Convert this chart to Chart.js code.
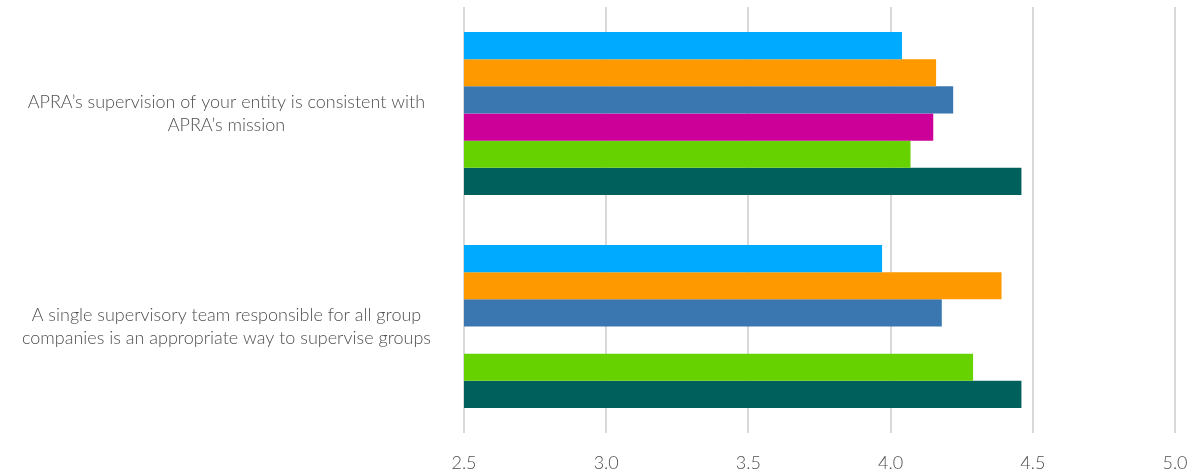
<!DOCTYPE html>
<html>
<head>
<meta charset="utf-8">
<script src="https://cdn.jsdelivr.net/npm/chart.js@4"></script>
<style>
html,body{margin:0;padding:0;background:#fff;}
#wrap{width:1197px;height:474px;}
</style>
</head>
<body>
<div id="wrap"><canvas id="c" width="1197" height="474"></canvas></div>
<script>
const categories = [
  ["APRA\u2019s supervision of your entity is consistent with", "APRA\u2019s mission"],
  ["A single supervisory team responsible for all group", "companies is an appropriate way to supervise groups"]
];
const seriesNames = ["Series 1", "Series 2", "Series 3", "Series 4", "Series 5", "Series 6"];
const series1 = [4.04, 3.97];
const series2 = [4.16, 4.39];
const series3 = [4.22, 4.18];
const series4 = [4.15, null];
const series5 = [4.07, 4.29];
const series6 = [4.46, 4.46];
const xTicks = [2.5, 3.0, 3.5, 4.0, 4.5, 5.0];

const colors = ["#00AAFF", "#FF9900", "#3A76AF", "#CC0099", "#66D200", "#00605C"];
const allSeries = [series1, series2, series3, series4, series5, series6];

const FONT = "Lato, 'Open Sans', sans-serif";

new Chart(document.getElementById('c'), {
  type: 'bar',
  data: {
    labels: categories,
    datasets: allSeries.map((d, i) => ({
      label: seriesNames[i],
      data: d,
      backgroundColor: colors[i],
      borderWidth: 0,
      categoryPercentage: 0.765,
      barPercentage: 1.0
    }))
  },
  options: {
    indexAxis: 'y',
    responsive: false,
    animation: false,
    layout: { padding: { top: 7, right: 22, bottom: 0, left: 0 } },
    plugins: { legend: { display: false }, tooltip: { enabled: false } },
    scales: {
      x: {
        min: xTicks[0],
        max: xTicks[xTicks.length - 1],
        afterBuildTicks: (axis) => { axis.ticks = xTicks.map(v => ({ value: v })); },
        afterFit: (scale) => { scale.height = 41; scale.paddingLeft = 0; scale.paddingRight = 0; },
        grid: { color: '#d9d9d9', lineWidth: 2, drawTicks: false },
        border: { display: false },
        ticks: {
          padding: 19,
          color: '#4f4f4f',
          font: { family: FONT, size: 18, weight: 300 },
          callback: (v) => Number(v).toFixed(1)
        }
      },
      y: {
        grid: { display: false },
        border: { display: false },
        afterFit: (scale) => { scale.width = 464; scale.paddingTop = 0; scale.paddingBottom = 0; },
        ticks: {
          crossAlign: 'center',
          padding: 25,
          color: '#4f4f4f',
          font: { family: FONT, size: 18, weight: 300, lineHeight: 1.3 }
        }
      }
    }
  }
});
</script>
</body>
</html>
